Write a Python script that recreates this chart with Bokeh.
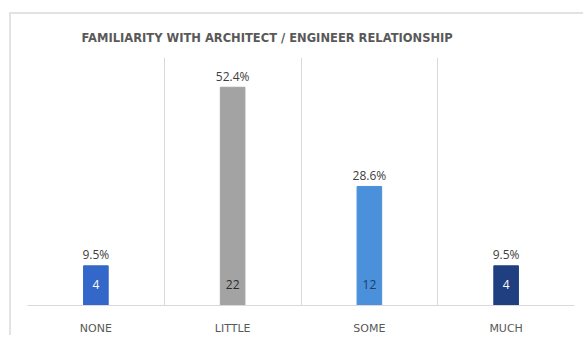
from bokeh.plotting import figure
from bokeh.models import ColumnDataSource, FixedTicker, Grid
from bokeh.core.properties import value
from bokeh.embed import file_html
from bokeh.resources import INLINE

categories = ["NONE", "LITTLE", "SOME", "MUCH"]
counts = [4, 22, 12, 4]
percent_labels = ["9.5%", "52.4%", "28.6%", "9.5%"]
bar_colors = ["#3367c9", "#a3a3a3", "#4a90da", "#1f3f80"]
count_colors = ["#ffffff", "#2b2b2b", "#1f3d6a", "#ffffff"]
title_text = "FAMILIARITY  WITH ARCHITECT / ENGINEER RELATIONSHIP"

xpos = [i + 0.5 for i in range(len(categories))]
src = ColumnDataSource(dict(x=xpos, top=counts, pct=percent_labels,
                            cnt=[str(c) for c in counts],
                            color=bar_colors, ccolor=count_colors,
                            zero=[0] * len(counts)))

p = figure(width=574, height=323, x_range=(0, 4), y_range=(0, 25),
           output_backend="svg", toolbar_location=None,
           min_border_left=16, min_border_right=11, min_border_bottom=31,
           min_border_top=43)
p.styles = {"margin-left": "11px", "margin-top": "14px",
            "box-shadow": "-2px -2px 0 0 #e2e2e2"}

p.title.text = title_text
p.title.text_font = "DejaVu Sans"
p.title.text_font_size = "11.5px"
p.title.text_font_style = "bold"
p.title.text_color = "#595959"
p.title.align = "left"
p.title.offset = 54
p.title.vertical_align = "top"
p.title.standoff = 22

p.outline_line_color = None
p.background_fill_color = "white"
p.border_fill_color = "white"

p.vbar(x="x", top="top", bottom=0, width=0.18, color="color", source=src)
p.text(x="x", y="top", text="pct", source=src, text_align="center",
       text_baseline="middle", y_offset=-11, text_font=value("Open Sans"),
       text_font_size="12px", text_color="#404040")
p.text(x="x", y="zero", text="cnt", source=src, text_align="center",
       text_baseline="middle", y_offset=-21, text_font=value("Open Sans"),
       text_font_size="12px", text_color="ccolor")

p.xgrid.visible = False
p.ygrid.visible = False
p.add_layout(Grid(dimension=0, ticker=FixedTicker(ticks=[0, 1, 2, 3, 4]),
                  grid_line_color="#d9d9d9", grid_line_width=1))

p.yaxis.visible = False
p.xaxis.ticker = FixedTicker(ticks=xpos)
p.xaxis.major_label_overrides = {x: c for x, c in zip(xpos, categories)}
p.xaxis.major_tick_line_color = None
p.xaxis.minor_tick_line_color = None
p.xaxis.axis_line_color = "#d9d9d9"
p.xaxis.major_label_standoff = 10
p.xaxis.major_label_text_font = "DejaVu Sans"
p.xaxis.major_label_text_font_size = "11px"
p.xaxis.major_label_text_color = "#595959"

open("out.html", "w").write(file_html(p, INLINE))
